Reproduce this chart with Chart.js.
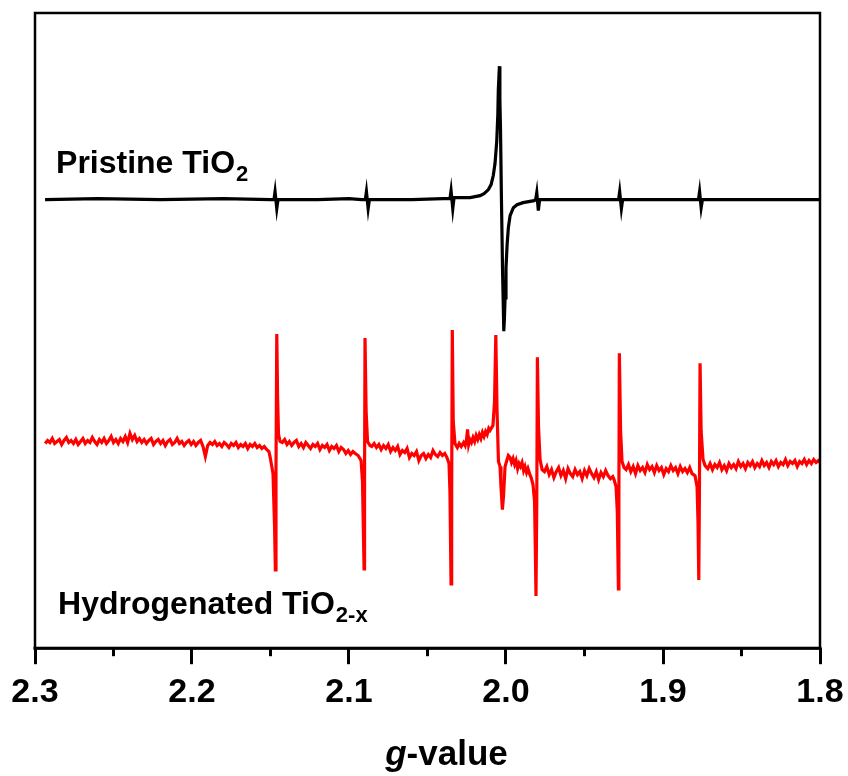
<!DOCTYPE html>
<html>
<head>
<meta charset="utf-8">
<script src="https://cdn.jsdelivr.net/npm/chart.js@4.4.1/dist/chart.umd.min.js"></script>
<style>
    html, body { margin: 0; padding: 0; background: #fff; }
    #wrap { width: 848px; height: 776px; }
</style>
</head>
<body>
<div id="wrap"><canvas id="eprChart" width="848" height="776"></canvas></div>
<script>
// EPR spectra, [g-value, intensity (a.u., relative to each baseline)]
const pristineTrace = [
    [2.2936, 0], [2.26, 1], [2.22, 0], [2.18, 1], [2.150, 0],
    [2.1478, 0], [2.1471, 8], [2.1460, -9], [2.1452, 0],
    [2.12, 0], [2.10, 1], [2.092, 0],
    [2.0896, 0], [2.0889, 8], [2.0878, -9], [2.0870, 0],
    [2.06, 0], [2.040, 1],
    [2.0357, 1], [2.0350, 9], [2.0339, -9], [2.0331, 2],
    [2.0229, 2], [2.0165, 4], [2.0140, 6], [2.0112, 10], [2.0095, 15], [2.0081, 24],
    [2.0070, 36], [2.0059, 58], [2.0052, 85], [2.0049, 109],
    [2.0042, 133], [2.0039, 100], [2.0035, 70], [2.0029, 0], [2.0022, -70], [2.0014, -131],
    [2.0010, -118], [2.0006, -98], [2.0000, -68], [1.9993, -45], [1.9985, -28],
    [1.9974, -16], [1.9953, -8], [1.9930, -5], [1.9891, -3], [1.9821, -1],
    [1.9811, 0], [1.9804, 7], [1.9794, -11], [1.9786, 0],
    [1.95, 0], [1.93, 0],
    [1.9283, 0], [1.9276, 8], [1.9265, -9], [1.9257, 0],
    [1.90, 0], [1.88, 0],
    [1.8774, 0], [1.8767, 8], [1.8757, -8], [1.8749, 0],
    [1.84, 0], [1.80, 0]
];

const hydrogenatedTrace = [
    [2.2935, 8], [2.292, 11], [2.2905, 9], [2.289, 13], [2.2875, 8], [2.286, 10],
    [2.2845, 12], [2.283, 7], [2.2815, 11], [2.280, 14], [2.2785, 9], [2.277, 11],
    [2.2755, 8], [2.274, 12], [2.2725, 7], [2.271, 10], [2.2695, 13], [2.268, 8],
    [2.2665, 11], [2.265, 9], [2.2635, 14], [2.262, 10], [2.2605, 7], [2.259, 12],
    [2.2575, 9], [2.256, 13], [2.2545, 8], [2.253, 11], [2.2515, 15], [2.250, 9],
    [2.2485, 12], [2.247, 8], [2.2455, 13], [2.244, 10], [2.2425, 15], [2.241, 9],
    [2.2395, 18], [2.238, 12], [2.2365, 16], [2.235, 10], [2.2335, 13], [2.232, 9],
    [2.2305, 12], [2.229, 8], [2.2275, 11], [2.226, 13], [2.2245, 7], [2.223, 10],
    [2.2215, 12], [2.220, 8], [2.2185, 11], [2.217, 6], [2.2155, 10], [2.214, 12],
    [2.2125, 7], [2.211, 9], [2.2095, 13], [2.208, 8], [2.2065, 10], [2.205, 6],
    [2.2035, 9], [2.202, 11], [2.2005, 7], [2.199, 10], [2.1975, 6], [2.196, 9],
    [2.1945, 11], [2.193, 5], [2.1915, -5], [2.190, 6], [2.1885, 9], [2.187, 7],
    [2.1855, 10], [2.184, 6], [2.1825, 8], [2.181, 5], [2.1795, 9], [2.178, 7],
    [2.1765, 4], [2.175, 8], [2.1735, 6], [2.172, 9], [2.1705, 4], [2.169, 7],
    [2.1675, 5], [2.166, 8], [2.1645, 3], [2.163, 7], [2.1615, 5], [2.160, 8],
    [2.1585, 4], [2.157, 6], [2.1555, 3], [2.154, 5], [2.1525, 2], [2.151, 0],
    [2.1503, -5], [2.1484, -22], [2.1474, -75], [2.1469, -118], [2.1465, -20],
    [2.1460, 117], [2.1455, 55], [2.1449, 17], [2.1439, 10],
    [2.1425, 9], [2.141, 12], [2.1395, 7], [2.138, 10], [2.1365, 6], [2.135, 9],
    [2.1335, 11], [2.132, 5], [2.1305, 8], [2.129, 4], [2.1275, 9], [2.126, 6],
    [2.1245, 3], [2.123, 7], [2.1215, 5], [2.120, 8], [2.1185, 2], [2.117, 6],
    [2.1155, 4], [2.114, 7], [2.1125, 1], [2.111, 5], [2.1095, 3], [2.108, 6],
    [2.1065, 0], [2.105, 4], [2.1035, 2], [2.102, -2], [2.1005, 1], [2.099, -3],
    [2.0975, 0], [2.096, -2],
    [2.0942, -4], [2.0923, -9], [2.0914, -30], [2.0904, -117], [2.0901, -30],
    [2.0898, 113], [2.0891, 40], [2.0882, 10], [2.0866, 6],
    [2.0855, 5], [2.084, 8], [2.0825, 4], [2.081, 7], [2.0795, 2], [2.078, 6],
    [2.0765, 3], [2.075, 7], [2.0735, 0], [2.072, 4], [2.0705, 1], [2.069, 5],
    [2.0675, -3], [2.066, 1], [2.0645, -1], [2.063, 3], [2.0615, -6], [2.060, -2],
    [2.0585, -4], [2.057, 0], [2.0555, -9], [2.054, -4], [2.0525, -2], [2.051, -7],
    [2.0495, -3], [2.048, -6], [2.0465, 1], [2.045, -3], [2.0435, -5], [2.042, -1],
    [2.0405, -4], [2.039, -2],
    [2.0376, -6], [2.0363, -12], [2.0357, -40], [2.0350, -132], [2.0346, -40],
    [2.0342, 121], [2.0336, 30], [2.0325, 8],
    [2.031, 4], [2.0298, 8], [2.0285, 5], [2.027, 9], [2.026, 6], [2.0252, 11],
    [2.0245, 22], [2.0238, 7], [2.023, 12], [2.022, 9], [2.021, 14], [2.020, 10],
    [2.019, 16], [2.018, 12], [2.017, 17], [2.016, 13], [2.015, 19], [2.014, 15],
    [2.013, 20], [2.012, 17], [2.011, 23], [2.0102, 21],
    [2.0083, 26], [2.0073, 50], [2.0065, 116], [2.0057, 40], [2.0048, -10],
    [2.0038, -15], [2.0032, -35], [2.0023, -58], [2.0016, -45], [2.0006, -15],
    [1.9993, -8], [1.9985, -4], [1.9974, -6], [1.9965, -11], [1.9955, -7],
    [1.9945, -13], [1.9936, -9], [1.9926, -17], [1.9917, -12], [1.9908, -15],
    [1.9898, -11], [1.9888, -19], [1.9879, -15], [1.9869, -21], [1.9860, -17],
    [1.9850, -22], [1.9840, -26], [1.9828, -33],
    [1.9818, -50], [1.9813, -100], [1.9809, -144], [1.9804, -50], [1.9800, 94],
    [1.9793, 25], [1.9783, -8], [1.9770, -18],
    [1.9755, -20], [1.974, -15], [1.9725, -23], [1.971, -18], [1.9695, -26],
    [1.968, -20], [1.9665, -16], [1.965, -24], [1.9635, -19], [1.962, -27],
    [1.9605, -17], [1.959, -22], [1.9575, -25], [1.956, -18], [1.9545, -23],
    [1.953, -20], [1.9515, -27], [1.950, -19], [1.9485, -24], [1.947, -17],
    [1.9455, -22], [1.944, -26], [1.9425, -20], [1.941, -28], [1.9395, -21],
    [1.938, -25], [1.9365, -19], [1.935, -24], [1.9335, -27], [1.932, -25],
    [1.9312, -28], [1.9299, -35], [1.9291, -60], [1.9284, -137], [1.9281, -50],
    [1.9278, 98], [1.9270, 20], [1.9261, -10], [1.9248, -16],
    [1.9235, -18], [1.922, -13], [1.9205, -20], [1.919, -15], [1.9175, -22],
    [1.916, -14], [1.9145, -19], [1.913, -16], [1.9115, -21], [1.910, -13],
    [1.9085, -18], [1.907, -15], [1.9055, -21], [1.904, -14], [1.9025, -19],
    [1.901, -16], [1.8995, -23], [1.898, -17], [1.8965, -20], [1.895, -14],
    [1.8935, -19], [1.892, -16], [1.8905, -22], [1.889, -15], [1.8875, -20],
    [1.886, -17], [1.8845, -21], [1.883, -16], [1.8815, -22],
    [1.8796, -24], [1.8783, -35], [1.8777, -70], [1.8772, -128], [1.8768, -40],
    [1.8764, 88], [1.8757, 20], [1.8745, -8], [1.8732, -14],
    [1.8715, -17], [1.870, -12], [1.8685, -18], [1.867, -13], [1.8655, -16],
    [1.864, -11], [1.8625, -18], [1.861, -14], [1.8595, -19], [1.858, -12],
    [1.8565, -16], [1.855, -13], [1.8535, -17], [1.852, -10], [1.8505, -15],
    [1.849, -12], [1.8475, -17], [1.846, -11], [1.8445, -14], [1.843, -10],
    [1.8415, -16], [1.840, -12], [1.8385, -15], [1.837, -9], [1.8355, -14],
    [1.834, -11], [1.8325, -16], [1.831, -10], [1.8295, -13], [1.828, -9],
    [1.8265, -15], [1.825, -11], [1.8235, -13], [1.822, -8], [1.8205, -14],
    [1.819, -10], [1.8175, -12], [1.816, -9], [1.8145, -15], [1.813, -10],
    [1.8115, -12], [1.810, -8], [1.8085, -13], [1.807, -9], [1.8055, -12],
    [1.804, -8], [1.8025, -11], [1.801, -9], [1.800, -11]
];

const seriesOffsets = [447, 196];   // vertical stacking of the two spectra
const gTicks = [2.3, 2.2, 2.1, 2.0, 1.9, 1.8];
const gMinorTicks = [2.25, 2.15, 2.05, 1.95, 1.85];

const FONT = "'Liberation Sans', Arial, Helvetica, sans-serif";

// frame + minor ticks + in-plot labels + axis title
const decorPlugin = {
    id: 'decor',
    afterDraw(chart) {
        const { ctx, chartArea: a, scales } = chart;
        const x = scales.x, y = scales.y;
        ctx.save();
        ctx.strokeStyle = '#000';
        ctx.lineWidth = 2.5;
        ctx.strokeRect(a.left, a.top, a.right - a.left, a.bottom - a.top);
        ctx.lineWidth = 3;
        ctx.beginPath();
        ctx.moveTo(a.left - 1.5, a.bottom);
        ctx.lineTo(a.right + 1.5, a.bottom);
        ctx.stroke();

        gMinorTicks.forEach(g => {
            const px = x.getPixelForValue(g);
            ctx.beginPath();
            ctx.moveTo(px, a.bottom);
            ctx.lineTo(px, a.bottom + 8);
            ctx.stroke();
        });

        // series labels
        ctx.fillStyle = '#000';
        ctx.textBaseline = 'alphabetic';
        ctx.textAlign = 'left';
        const drawLabel = (g, val, main, sub) => {
            const px = x.getPixelForValue(g), py = y.getPixelForValue(val);
            ctx.font = 'bold 32px ' + FONT;
            ctx.fillText(main, px, py);
            const w = ctx.measureText(main).width;
            ctx.font = 'bold 22px ' + FONT;
            ctx.fillText(sub, px + w + 1, py + 8);
        };
        drawLabel(2.2866, 474, 'Pristine TiO', '2');
        drawLabel(2.2853, 34, 'Hydrogenated TiO', '2-x');

        // axis title with italic g
        ctx.font = 'italic bold 35px ' + FONT;
        const gw = ctx.measureText('g').width;
        ctx.font = 'bold 35px ' + FONT;
        const rw = ctx.measureText('-value').width;
        const cx = (a.left + a.right) / 2 + 19;
        const startX = cx - (gw + rw) / 2;
        ctx.font = 'italic bold 35px ' + FONT;
        ctx.fillText('g', startX, 765);
        ctx.font = 'bold 35px ' + FONT;
        ctx.fillText('-value', startX + gw, 765);
        ctx.restore();
    }
};

const ctx = document.getElementById('eprChart');
const eprChart = new Chart(ctx, {
    type: 'line',
    data: {
        datasets: [
            {
                label: 'Pristine TiO2',
                data: pristineTrace.map(p => ({ x: p[0], y: p[1] + seriesOffsets[0] })),
                borderColor: '#000000',
                borderWidth: 3.2,
                pointRadius: 0,
                tension: 0
            },
            {
                label: 'Hydrogenated TiO2-x',
                data: hydrogenatedTrace.map(p => ({ x: p[0], y: p[1] + seriesOffsets[1] })),
                borderColor: '#ff0000',
                borderWidth: 3.2,
                pointRadius: 0,
                tension: 0
            }
        ]
    },
    options: {
        responsive: false,
        animation: false,
        layout: { padding: { left: 35, right: 28, top: 13, bottom: 55 } },
        plugins: {
            legend: { display: false },
            tooltip: { enabled: false }
        },
        scales: {
            x: {
                type: 'linear',
                reverse: true,
                min: 1.8,
                max: 2.3,
                afterBuildTicks: axis => {
                    axis.ticks = gTicks.map(v => ({ value: v }));
                },
                afterFit: axis => {
                    axis.paddingLeft = 0;
                    axis.paddingRight = 0;
                },
                ticks: {
                    color: '#000',
                    font: { family: FONT, size: 34, weight: 'bold' },
                    padding: 8,
                    maxRotation: 0,
                    autoSkip: false,
                    callback: v => Number(v).toFixed(1)
                },
                grid: {
                    display: true,
                    drawOnChartArea: false,
                    drawTicks: true,
                    tickLength: 16,
                    tickWidth: 3,
                    tickColor: '#000'
                },
                border: { display: false },
                title: { display: false }
            },
            y: {
                display: false,
                min: 0,
                max: 633
            }
        }
    },
    plugins: [decorPlugin]
});
</script>
</body>
</html>
